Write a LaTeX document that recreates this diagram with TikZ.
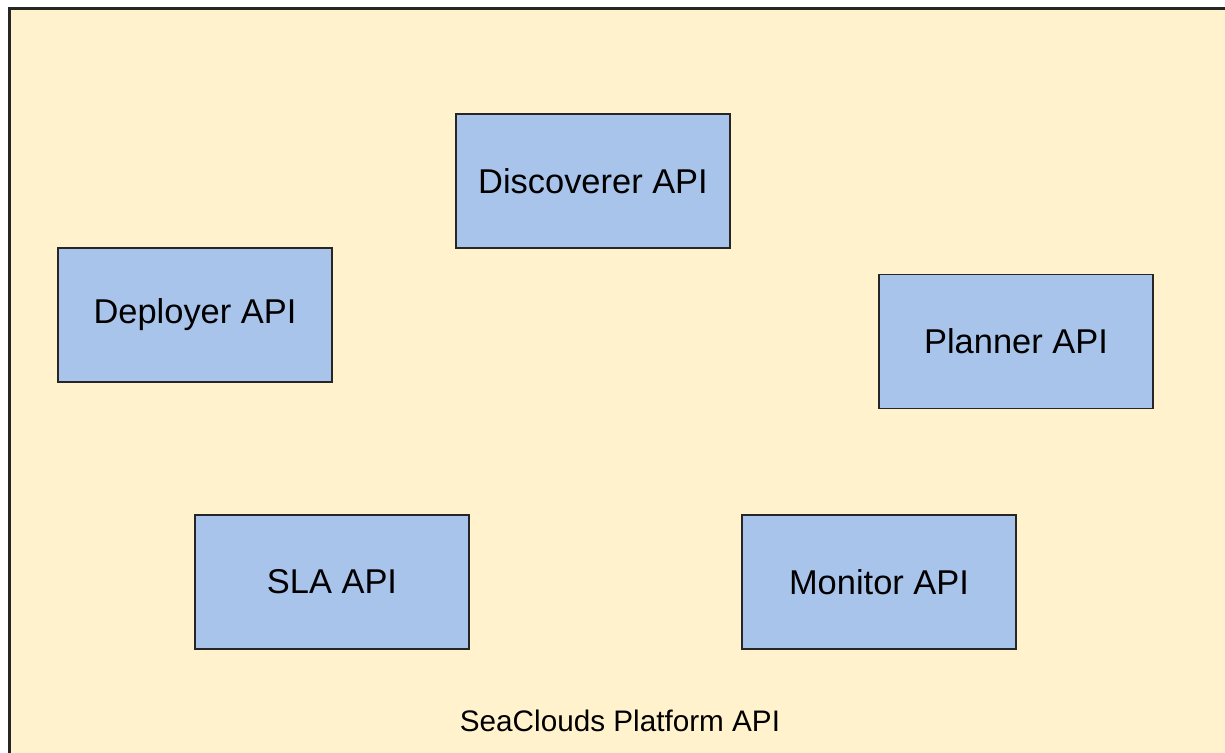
\documentclass[tikz,border=0pt]{standalone}
\usepackage{fontspec}
\setmainfont{Liberation Sans}
\usepackage{xcolor}
\usetikzlibrary{positioning}

\definecolor{platformfill}{HTML}{FFF2CC}
\definecolor{apifill}{HTML}{A9C4EB}

\begin{document}
\begin{tikzpicture}[
  x=0.02cm, y=-0.02cm,
  container/.style={draw=black!85,line width=1.7pt,fill=platformfill,minimum width=24.9cm,minimum height=15.4cm,inner sep=0pt},
  api/.style={draw=black!85,line width=1.1pt,fill=apifill,minimum width=5.48cm,minimum height=2.68cm,align=center,font=\fontsize{19.6}{23}\selectfont},
  caption/.style={font=\fontsize{16.9}{20}\selectfont},
]
\fill[white] (0,0) rectangle (1225,753);
\clip (0,0) rectangle (1225,753);
\node[container] (platform) at (632,393) {};
\node[api] (disc) at (593,181) {Discoverer API};
\node[api] (depl) at (195,315) {Deployer API};
\node[api] (plan) at (1016,341.5) {Planner API};
\node[api] (sla) at (332,582) {SLA API};
\node[api] (mon) at (879,582) {Monitor API};
\node[caption] (plat) at (620,721) {SeaClouds Platform API};
\end{tikzpicture}
\end{document}
